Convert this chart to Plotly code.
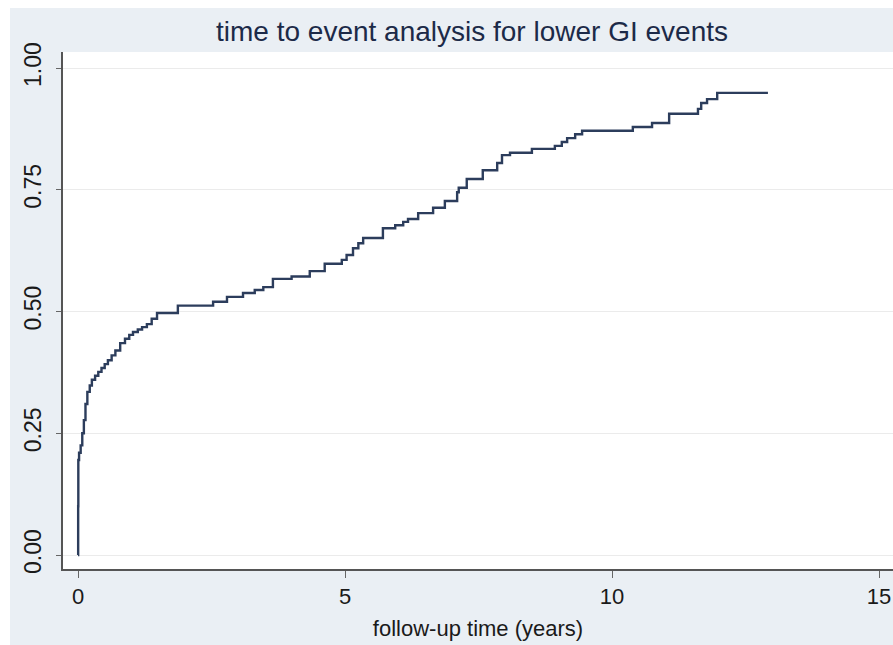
import plotly.graph_objects as go

# Follow-up time (years) at each step and cumulative incidence after the step
times = [0.0, 0.003, 0.006, 0.02, 0.05, 0.08, 0.11, 0.14, 0.175, 0.22, 0.26, 0.32, 0.38,
         0.44, 0.5, 0.56, 0.63, 0.7, 0.79, 0.88, 0.96, 1.03, 1.12, 1.2, 1.29, 1.38,
         1.48, 1.87, 2.53, 2.79, 3.09, 3.31, 3.47, 3.65, 4.0, 4.34, 4.62, 4.94, 5.03,
         5.15, 5.25, 5.34, 5.71, 5.94, 6.09, 6.18, 6.37, 6.65, 6.87, 7.1, 7.13, 7.28,
         7.58, 7.85, 7.94, 8.09, 8.5, 8.93, 9.06, 9.16, 9.31, 9.44, 10.39, 10.75,
         11.07, 11.61, 11.67, 11.78, 11.97, 12.92]
failure = [0.0, 0.1, 0.195, 0.21, 0.225, 0.25, 0.277, 0.31, 0.335, 0.348, 0.36, 0.368, 0.376,
           0.384, 0.392, 0.40, 0.41, 0.42, 0.435, 0.444, 0.452, 0.458, 0.463, 0.468, 0.474, 0.485,
           0.497, 0.512, 0.52, 0.53, 0.538, 0.544, 0.55, 0.567, 0.572, 0.583, 0.598, 0.606, 0.616,
           0.63, 0.64, 0.651, 0.671, 0.677, 0.684, 0.69, 0.702, 0.713, 0.727, 0.745, 0.754, 0.772,
           0.79, 0.805, 0.821, 0.826, 0.834, 0.84, 0.848, 0.856, 0.864, 0.871, 0.879, 0.887,
           0.906, 0.916, 0.928, 0.936, 0.949, 0.949]

x_ticks = [0, 5, 10, 15]
y_ticks = [0, 0.25, 0.5, 0.75, 1.0]
y_tick_labels = ["0.00", "0.25", "0.50", "0.75", "1.00"]

title_text = "time to event analysis for lower GI events"
x_title = "follow-up time (years)"

outer_bg = "#eaeff4"
navy = "#1c2a48"
line_col = "#2c3d5c"

fig = go.Figure()
fig.add_trace(go.Scatter(
    x=times, y=failure, mode="lines", line=dict(shape="hv", color=line_col, width=2.4),
    showlegend=False, hoverinfo="x+y"))

W, H = 893, 645
ml, mr, mt, mb = 63, 0, 52, 76
pw, ph = W - ml - mr, H - mt - mb

fig.update_layout(
    width=W, height=H,
    margin=dict(l=ml, r=mr, t=mt, b=mb),
    paper_bgcolor=outer_bg,
    plot_bgcolor="white",
    font=dict(family="Liberation Sans, Arial, sans-serif", color="#1a1a1a"),
    title=dict(text=title_text, x=472 / W, xanchor="center", xref="container",
               y=1 - 31 / H, yanchor="middle", yref="container",
               font=dict(size=28, color=navy)),
    shapes=[
        dict(type="rect", xref="paper", yref="paper", x0=-0.2, x1=-(ml - 10) / pw,
             y0=-0.3, y1=1.3, fillcolor="white", line=dict(width=0), layer="below"),
        dict(type="rect", xref="paper", yref="paper", x0=-0.2, x1=1.2,
             y0=1 + (mt - 8) / ph, y1=1.3, fillcolor="white", line=dict(width=0), layer="below"),
    ],
)

fig.update_xaxes(
    range=[(ml - 78) / 53.4, (W - 78) / 53.4],
    tickvals=x_ticks, ticktext=[str(t) for t in x_ticks],
    showgrid=False, zeroline=False,
    showline=True, linecolor="#555555", linewidth=2,
    ticks="outside", ticklen=7, tickcolor="#666666", tickwidth=1,
    tickfont=dict(size=22, color="#1a1a1a"),
    title=dict(text=x_title, font=dict(size=22, color="#1a1a1a"), standoff=12),
)
fig.update_yaxes(
    range=[-(569 - 555) / 487, (555 - 52) / 487],
    tickvals=y_ticks, ticktext=y_tick_labels, tickangle=-90,
    showgrid=True, gridcolor="#ebebeb", gridwidth=1, zeroline=False,
    showline=True, linecolor="#555555", linewidth=2,
    ticks="outside", ticklen=5, tickcolor="#666666", tickwidth=1,
    tickfont=dict(size=23, color="#1a1a1a"),
    ticklabelstandoff=6,
)

fig.write_html(
    "out.html",
    config={"displayModeBar": False},
    post_script="document.body.style.margin='0';document.body.style.overflow='hidden';",
)
